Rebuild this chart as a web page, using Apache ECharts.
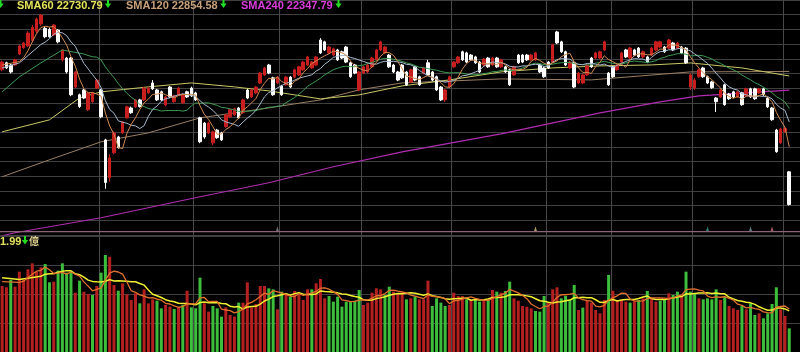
<!DOCTYPE html>
<html><head><meta charset="utf-8">
<script src="https://cdn.jsdelivr.net/npm/echarts/dist/echarts.min.js"></script>
<style>html,body{margin:0;padding:0;background:#000;overflow:hidden}#c{width:800px;height:352px}</style>
</head><body><div id="c"></div>
<script>
// ---- data ----
const openP = [22900,23090,23030,23030,23330,23500,23550,23700,23950,24150,
 24030,24000,23850,23980,23170,23220,23220,22430,22220,22350,
 21810,22030,22400,22350,20990,19960,20640,21070,21180,21590,
 21860,21890,22080,22080,22270,22540,22350,22300,21940,22430,
 22030,22220,22000,22300,22400,22270,21590,21450,21180,20910,
 21260,21180,21350,21620,21670,21860,21730,22350,22160,22270,
 22540,22760,23030,22680,22540,22460,22490,22700,22700,22760,
 22900,23030,22950,23030,23710,23660,23360,23300,23440,23390,
 23520,23090,23030,22350,22810,22840,22980,23170,23440,23360,
 23300,23030,22840,23030,22840,22570,22980,22710,22810,23090,
 22840,22710,22430,22080,22430,22980,23090,23390,23360,23300,
 23250,23110,23030,23220,23030,23220,22980,22980,22900,22760,
 23300,23300,23300,23170,23170,23030,22950,23110,23110,23930,
 23660,23390,22950,23090,22540,22540,22760,23220,23220,23220,
 23440,22810,22980,22900,23110,23440,23220,23440,23490,23250,
 23250,23300,23440,23520,23520,23490,23630,23490,23520,23490,
 22430,22400,22710,22950,22710,22570,22130,22160,22490,22240,
 22300,22160,22270,22190,22380,22380,22270,22380,22130,21860,
 21260,20910,21220,20120];
const closeP = [23110,22950,22840,23170,23550,23630,23900,24050,24280,24390,
 23800,23800,24120,23660,23440,22840,22220,22840,21900,22130,
 22270,22270,22620,21620,19830,20500,21180,20780,21480,21890,
 21730,22080,21900,22400,22400,22380,22080,22080,22160,22160,
 22190,22400,22220,22160,22190,22080,20940,21070,21450,21210,
 21050,20990,21670,21810,21840,21590,22080,22130,22350,22430,
 22810,22950,22810,22220,22700,22220,22700,22430,22900,22980,
 23110,23250,23110,23250,23360,23440,23520,23470,23170,23220,
 23110,22710,22810,22840,22980,23030,23220,23440,23660,23520,
 22980,22840,22620,22680,22490,22900,22620,22490,22950,22760,
 22620,22350,22080,22350,22710,23110,23250,23170,23110,23170,
 23090,22840,23190,22980,23220,22980,23170,22840,22490,22980,
 23090,23110,23170,23300,23360,22840,22710,22950,23580,23630,
 23390,23030,23110,22430,22810,22760,23030,22980,23360,23390,
 23660,22490,22710,23030,23360,23250,23490,23300,23250,23390,
 23110,23490,23660,23660,23390,23710,23440,23630,23360,23090,
 22760,22620,22900,22710,22540,22410,22030,22350,21950,22110,
 22160,22300,21950,22380,22160,22110,22380,22220,21890,21540,
 20670,21290,21298,19232];
const lowP = [22860,22920,22800,23000,23300,23470,23520,23650,23900,24100,
 23760,23770,23820,23620,23130,22800,22180,22400,21860,22100,
 21780,22000,22380,21580,19660,19850,20600,20750,21150,21570,
 21700,21860,21870,22050,22250,22350,22050,22050,21910,22130,
 22000,22190,21970,22130,22160,22050,20900,21020,21150,20850,
 21020,20960,21320,21590,21640,21560,21700,22100,22130,22240,
 22510,22730,22780,22190,22510,22190,22460,22400,22670,22730,
 22870,23000,22920,23000,23330,23410,23330,23270,23140,23190,
 23080,22680,22780,22320,22780,22810,22950,23140,23410,23330,
 22950,22810,22590,22650,22460,22540,22590,22460,22780,22730,
 22590,22320,22050,22020,22400,22950,23060,23140,23080,23140,
 23060,22810,23000,22950,23000,22950,22950,22810,22460,22730,
 23060,23080,23140,23140,23140,22810,22680,22920,23080,23600,
 23360,23000,22920,22400,22510,22510,22730,22950,23190,23190,
 23410,22460,22680,22870,23080,23220,23190,23270,23220,23220,
 23080,23270,23410,23490,23360,23460,23410,23460,23330,23060,
 22350,22350,22680,22680,22510,22380,21750,22130,21920,22080,
 22130,22130,21920,22160,22130,22080,22240,22190,21860,21510,
 20640,20880,21180,19200];
const highP = [23150,23120,23060,23200,23580,23660,23950,24120,24320,24416,
 24080,24050,24150,24010,23460,23250,23250,22870,22250,22380,
 22300,22300,22650,22380,21020,20600,21220,21100,21500,21920,
 21900,22100,22110,22430,22430,22620,22380,22330,22190,22460,
 22220,22430,22250,22330,22440,22300,21620,21480,21480,21240,
 21290,21210,21700,21840,21870,21890,22110,22380,22380,22460,
 22840,22980,23060,22710,22730,22490,22730,22730,22930,23010,
 23140,23280,23140,23280,23760,23690,23550,23500,23470,23420,
 23550,23120,23060,22870,23010,23060,23250,23470,23690,23550,
 23330,23060,22870,23060,22870,22930,23010,22740,22980,23170,
 22870,22740,22460,22380,22740,23140,23280,23420,23390,23330,
 23280,23140,23220,23250,23250,23250,23200,23010,22930,23010,
 23330,23330,23330,23330,23390,23060,22980,23140,23610,23960,
 23690,23420,23140,23120,22840,22790,23060,23250,23390,23420,
 23690,22840,23010,23060,23390,23470,23520,23470,23520,23420,
 23280,23520,23690,23690,23550,23740,23660,23660,23550,23520,
 22800,22680,22930,22980,22740,22600,22160,22380,22520,22270,
 22330,22330,22300,22410,22410,22410,22410,22410,22160,21890,
 21290,21320,21340,20140];
const volume = [4552,4460,4966,4506,5540,4966,5701,6115,5540,5839,
 6069,4805,4851,5610,6115,5472,5540,4092,4920,4161,
 4000,3931,4552,5472,6690,6575,4621,4230,4736,3977,
 3586,4046,3356,4322,3356,3632,3540,3012,3242,3126,
 2966,3081,3242,4230,3081,3012,5127,3356,2782,3173,
 3012,2437,3081,2552,2437,3402,3402,4805,3081,3311,
 4552,4552,4391,4322,2943,4161,4000,3816,4207,3931,
 3586,4322,4322,4736,5035,3701,3862,3471,3816,3126,
 3471,3471,3540,4276,3242,3402,4092,4391,4322,3931,
 4506,4161,4046,4046,3632,3701,3816,3632,3632,4920,
 3173,3701,3402,3173,3242,4092,3862,3862,3632,3586,
 3586,3471,3586,3586,4276,4161,4092,4207,4851,3701,
 3540,3173,3126,3012,2828,2782,3862,3402,4322,4460,
 3701,3862,3586,4621,2897,3058,3540,3402,2897,2667,
 3586,5311,4230,3586,3586,3471,3402,3471,3586,3701,
 4207,3701,3471,3540,3632,4046,3931,4161,3862,5540,
 4161,4046,3701,3632,3701,3632,4322,3586,3816,3173,
 3012,2897,3173,2943,3356,2552,2667,2322,2667,3311,
 4460,2943,2483,1632];
const volUp = [1,1,0,1,1,1,1,1,1,1, 0,0,1,0,0,0,0,1,0,1, 1,0,1,0,0,1,1,0,1,1,
 1,1,0,1,1,1,0,0,1,1, 0,1,0,1,0,0,0,1,1,0, 0,0,1,1,1,0,1,1,1,1,
 1,1,0,0,1,0,1,0,1,1, 1,1,0,1,1,1,0,0,0,0, 0,0,0,0,1,1,1,1,1,0,
 0,1,1,1,0,1,0,1,1,1, 0,0,0,0,1,1,1,1,0,1, 0,0,1,0,1,0,1,0,0,1,
 1,1,1,1,0,0,0,1,1,1, 0,0,0,0,1,0,1,1,1,1, 1,0,1,1,1,1,0,1,0,1,
 0,1,1,0,0,1,0,0,1,0, 0,0,1,0,0,0,0,1,0,1, 1,1,0,1,0,0,1,0,0,0,
 0,1,1,0];
const monthStarts = [22,44,64,83,104,126,141,160,181];
const sma60Pts = [[0,21210],[11,21536],[18,22134],[23,22298],[34,22434],[44,22542],[54,22434],[62,22325],[74,22107],[83,22216],[93,22461],[104,22624],[116,22842],[128,22950],[139,23005],[151,23032],[160,23086],[172,22950],[183,22730.79]];
const sma120Pts = [[0,19986],[11,20448],[23,20938],[34,21182],[46,21590],[62,21862],[74,22080],[83,22352],[93,22542],[116,22651],[137,22624],[160,22842],[183,22854.58]];
const sma240Pts = [[0,18380],[3,18462],[23,18870],[46,19442],[62,19822],[77,20258],[93,20666],[116,21155],[139,21726],[153,22026],[162,22189],[183,22347.79]];
const ma5Head = [[0,23030]];
const ma10Head = [[0,22950],[4,23086]];
const ma20Head = [[0,22298],[4,22706],[9,23086],[14,23440]];
const vma5Head = [[0,4850]];
const vma10Head = [[0,5120],[4,5000]];
const legendNames = ['SMA60','SMA120','SMA240'];
const legendValues = ['22730.79','22854.58','22347.79'];
const volLabelValue = '1.99';
const volLabelUnit = '億';
const markerIdx = [64,124,164,174,179];
const markerPrice = [18571,18571,18571,18571,18571];

// ---- styling ----
const legendColors = ['#e4e45a','#c8a07a','#dc3cdc'];
const legendX = [17,126,241];
const arrowX = [108,223.5,338.5];
const markerColors = ['#8a8a8a','#d8c070','#3aa090','#70a0a0','#d07080'];
const gridColor = '#404040';

const categories = Array.from({length: openP.length + 2}, (_, i) => 'd' + i);
// month separators drawn as the category axis's own split lines (at the band edge after each month's first day)
const monthEdges = new Set(monthStarts.map(i => i + 1));

function sma(arr, n) {
  const out = []; let s = 0;
  for (let i = 0; i < arr.length; i++) {
    s += arr[i]; if (i >= n) s -= arr[i - n];
    if (i >= n - 1) out.push([i, +(s / n).toFixed(2)]);
  }
  return out;
}
const candleData = openP.map((o, i) => [o, closeP[i], lowP[i], highP[i]]);

function maLine(data, color, w, xi, yi, z) {
  return {type:'line', xAxisIndex:xi, yAxisIndex:yi, data:data, showSymbol:false, symbol:'none',
    lineStyle:{color:color, width:w}, silent:true, z:z, animation:false};
}
function arrow(cx, cy) {
  return {type:'polygon', shape:{points:[[cx-1,cy-5],[cx+1,cy-5],[cx+1,cy-1],[cx+3.2,cy-1],[cx,cy+3.5],[cx-3.2,cy-1],[cx-1,cy-1]]},
    style:{fill:'#22dd22'}, z:10};
}

const graphics = [
  {type:'rect', shape:{x:0, y:231, width:800, height:1.2}, style:{fill:'#8c6478'}, z:10}
];
legendNames.forEach((n, k) => {
  graphics.push({type:'text', x:legendX[k], y:5.5, z:10,
    style:{text:n + ' ' + legendValues[k], fill:legendColors[k], font:'bold 11px "Liberation Sans", Arial, sans-serif',
      align:'left', verticalAlign:'middle'}});
  graphics.push(arrow(arrowX[k], 4.5));
});
graphics.push(arrow(0.5, 4.5));
graphics.push({type:'text', x:0, y:241.5, z:10,
  style:{text:volLabelValue, fill:'#e4e45a', font:'bold 11px "Liberation Sans", Arial, sans-serif', align:'left', verticalAlign:'middle'}});
graphics.push(arrow(25, 241));
graphics.push({type:'text', x:29, y:241.5, z:10,
  style:{text:volLabelUnit, fill:'#d8cc8a', font:'bold 10px "Noto Sans CJK TC", sans-serif', align:'left', verticalAlign:'middle'}});

const axisHidden = {axisLine:{show:false}, axisTick:{show:false}, axisLabel:{show:false}};
const monthSplit = {show:true, interval:(idx) => monthEdges.has(idx), lineStyle:{color:'#484848', width:1}};
const option = {
  backgroundColor:'#000',
  animation:false,
  grid:[{left:0, top:0, width:800, height:235}, {left:0, top:236, width:800, height:116}],
  xAxis:[
    Object.assign({type:'category', data:categories, gridIndex:0, boundaryGap:true, splitLine:monthSplit}, axisHidden),
    Object.assign({type:'category', data:categories, gridIndex:1, boundaryGap:true, splitLine:monthSplit}, axisHidden)
  ],
  yAxis:[
    Object.assign({type:'value', gridIndex:0, min:18400, max:24800, interval:400,
      splitLine:{show:true, lineStyle:{color:gridColor, width:1}}}, axisHidden),
    Object.assign({type:'value', gridIndex:1, min:0, max:8000, interval:2000,
      splitLine:{show:true, lineStyle:{color:gridColor, width:1}}}, axisHidden)
  ],
  graphic: graphics,
  series:[
    maLine(sma240Pts, '#b02cb0', 1.2, 0, 0, 2),
    maLine(sma120Pts, '#9a7e64', 1, 0, 0, 2),
    maLine(sma60Pts, '#c8c864', 1, 0, 0, 2),
    {type:'candlestick', xAxisIndex:0, yAxisIndex:0, data:candleData, barWidth:3, z:3,
      itemStyle:{color:'#c81e1e', color0:'#ffffff', borderColor:'#c81e1e', borderColor0:'#ffffff', borderWidth:1}},
    maLine(ma20Head.concat(sma(closeP,20)), '#3c9a52', 1, 0, 0, 4),
    maLine(ma10Head.concat(sma(closeP,10)), '#a4b8cc', 1, 0, 0, 4),
    maLine(ma5Head.concat(sma(closeP,5)), '#d08a50', 1, 0, 0, 4),
    {type:'scatter', xAxisIndex:0, yAxisIndex:0, symbol:'triangle', symbolSize:[3,5], z:5, silent:true,
      data: markerIdx.map((m, k) => ({value:[categories[m], markerPrice[k]], itemStyle:{color:markerColors[k]}}))},
    {type:'bar', xAxisIndex:1, yAxisIndex:1, barWidth:3, z:2, silent:true,
      data: volume.map((v, i) => ({value:v, itemStyle:{color: volUp[i] ? '#b42020' : '#3cbe3c'}}))},
    maLine(vma10Head.concat(sma(volume,10)), '#f0f030', 1.5, 1, 1, 4),
    maLine(vma5Head.concat(sma(volume,5)), '#e0702c', 1.3, 1, 1, 4)
  ]
};
const chart = echarts.init(document.getElementById('c'), null, {renderer:'canvas'});
chart.setOption(option);
</script>
</body></html>
